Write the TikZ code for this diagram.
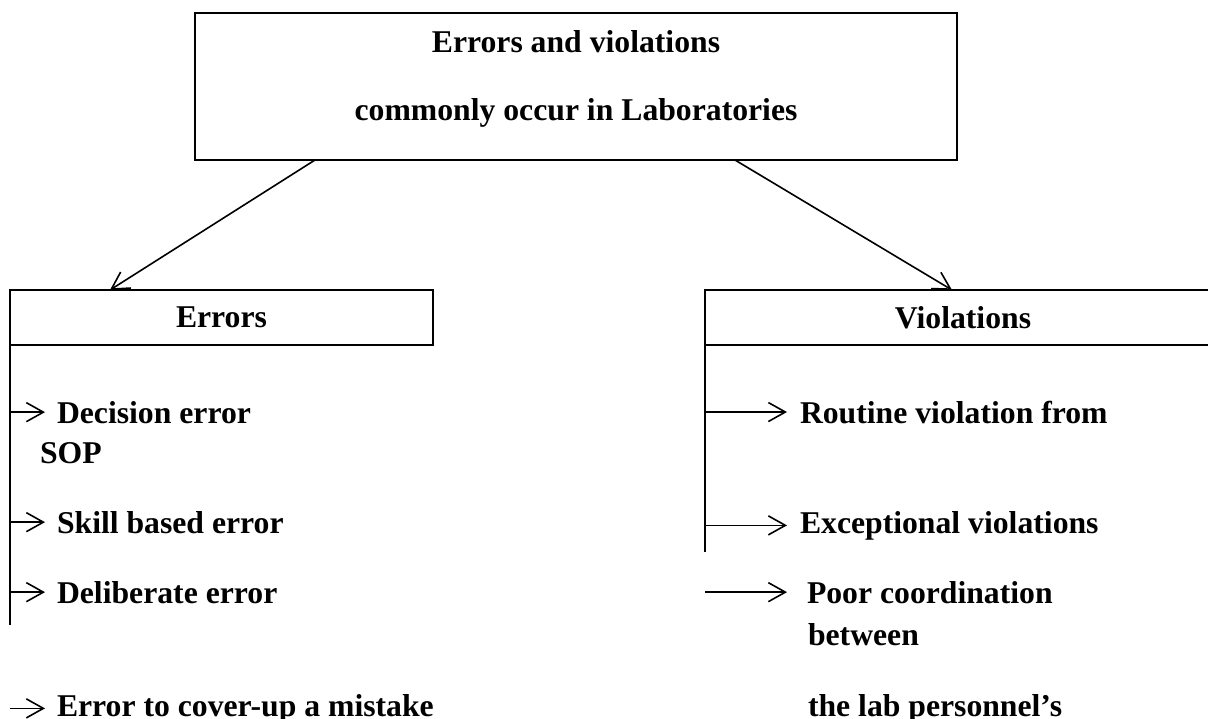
\documentclass[tikz,border=0pt]{standalone}
\usepackage{fontspec}
\setmainfont{Liberation Serif}
\usetikzlibrary{arrows.meta}
\begin{document}
\begin{tikzpicture}[x=1pt,y=-1pt,
  txt/.style={font=\fontsize{31.7}{38}\selectfont\bfseries},
  box/.style={draw, line width=2.2pt, inner sep=0pt, outer sep=0pt, anchor=north west, txt},
  lbl/.style={txt, inner sep=0pt, outer sep=0pt, anchor=base west},
  con/.style={line width=1.6pt},
  arr/.style={con, -{Straight Barb[length=17pt,width=19pt,line width=1.6pt]}}
]
\useasboundingbox (0,0) rectangle (1208,718);

% top box
\node[box, minimum width=762pt, minimum height=147pt] (top) at (195,13) {};
\node[lbl, anchor=base] (t1) at (576,52) {Errors and violations};
\node[lbl, anchor=base] (t2) at (576,120) {commonly occur in Laboratories};

% category boxes
\node[box, minimum width=423pt, minimum height=55pt] (err) at (10,290) {Errors};
\node[box, minimum width=516pt, minimum height=55pt] (vio) at (705,290) {Violations};

% main connectors
\draw[arr] ([xshift=120pt]top.south west) -- ([xshift=100pt]err.north west);
\draw[arr] ([xshift=540pt]top.south west) -- ([xshift=247pt]vio.north west);

% vertical lines
\coordinate (lend) at (10,625);
\coordinate (rend) at (705,552);
\draw[con] (err.south west) -- (lend);
\draw[con] (vio.south west) -- (rend);

% errors items
\node[lbl] (d1) at (57,423) {Decision error};
\node[lbl] (d1b) at (40,463) {SOP};
\node[lbl] (d2) at (57,533) {Skill based error};
\node[lbl] (d3) at (57,603) {Deliberate error};
\node[lbl] (d4) at (57,716) {Error to cover-up a mistake};

\draw[arr] (err.south west |- d1.west) -- ([xshift=-12pt]d1.west);
\draw[arr] (err.south west |- d2.west) -- ([xshift=-12pt]d2.west);
\draw[arr] (err.south west |- d3.west) -- ([xshift=-12pt]d3.west);
\draw[arr] (err.south west |- d4.west) -- ([xshift=-12pt]d4.west);

% violations items
\node[lbl] (v1) at (800,423) {Routine violation from};
\node[lbl] (v2) at (800,533) {Exceptional violations};
\node[lbl] (v3) at (807,603) {Poor coordination};
\node[lbl] (v3b) at (808,645) {between};
\node[lbl] (v3c) at (808,716) {the lab personnel’s};

\draw[arr] (vio.south west |- v1.west) -- ([xshift=-13pt]v1.west);
\draw[arr] (vio.south west |- v2.west) -- ([xshift=-13pt]v2.west);
\draw[arr] (vio.south west |- v3.west) -- ([xshift=-20pt]v3.west);
\end{tikzpicture}
\end{document}
